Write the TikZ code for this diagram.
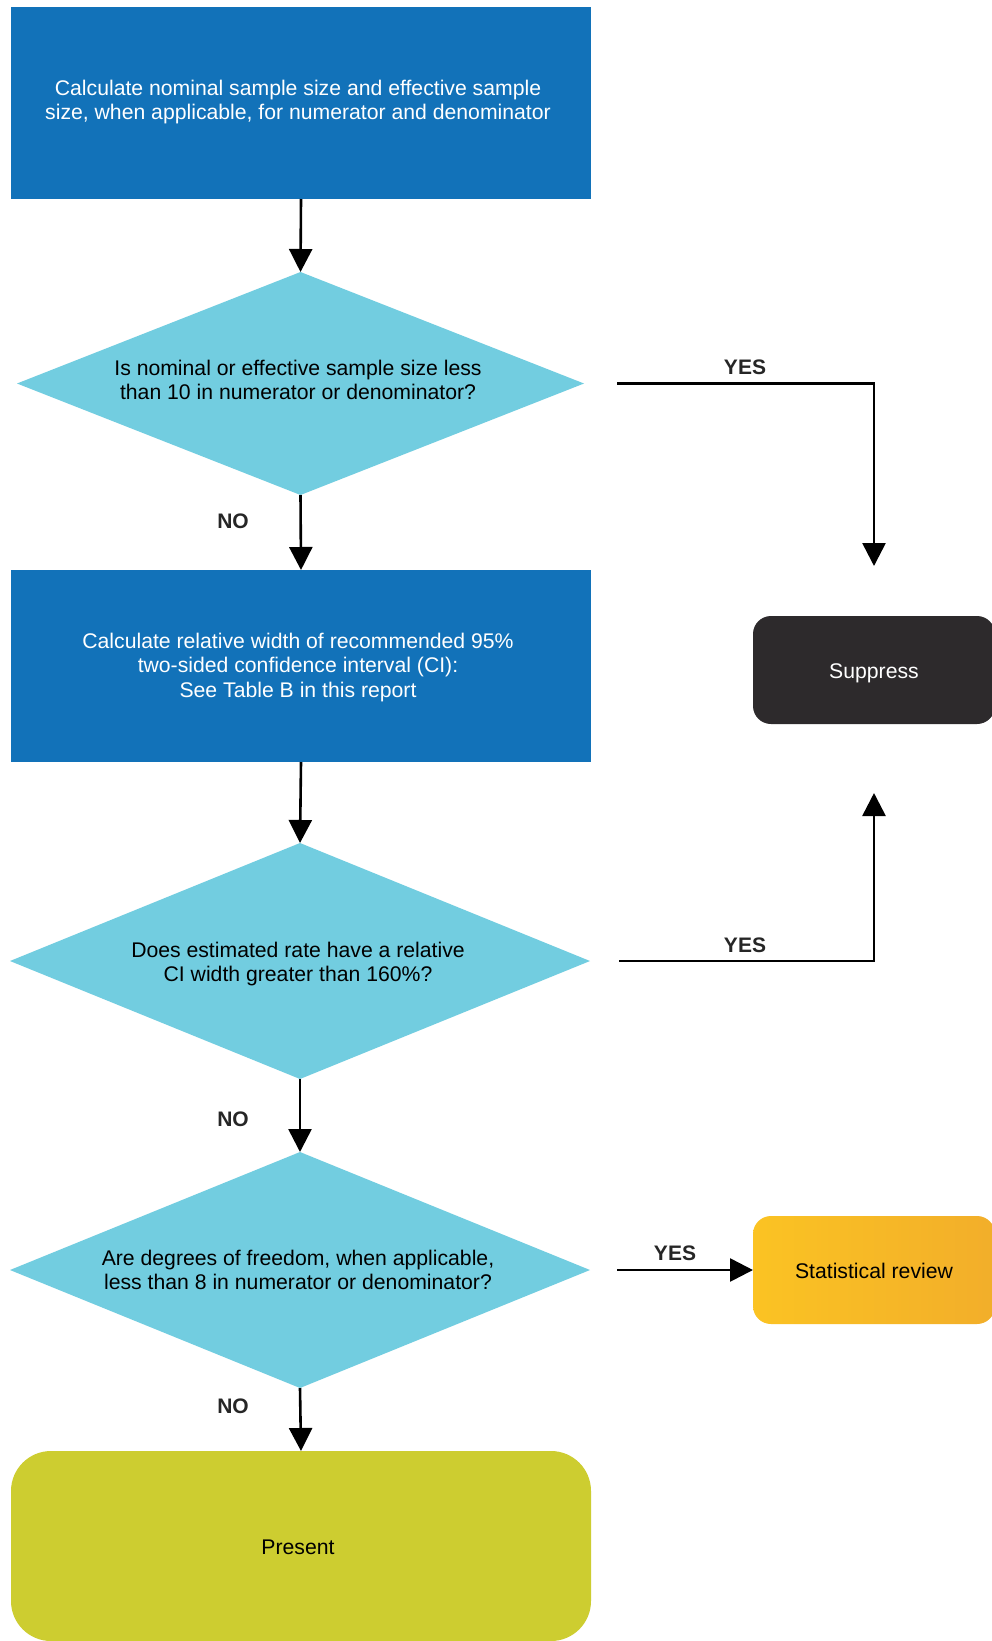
\documentclass[tikz,border=0pt]{standalone}
\usepackage{fontspec}
\setmainfont{Liberation Sans}
\usetikzlibrary{shapes.geometric,arrows.meta}
\definecolor{boxblue}{HTML}{1272B9}
\definecolor{diacyan}{HTML}{72CDE0}
\definecolor{supdark}{HTML}{2D2A2C}
\definecolor{statA}{HTML}{FBC323}
\definecolor{statB}{HTML}{F2AE2A}
\definecolor{presgreen}{HTML}{CDCD30}
\tikzset{
  every node/.style={outer sep=0pt, inner sep=0pt, font=\fontsize{21.2}{24.5}\selectfont},
  bluebox/.style={rectangle, fill=boxblue, minimum width=580pt, minimum height=192pt},
  diam/.style={diamond, fill=diacyan, inner sep=0pt},
  txt/.style={align=center},
  wtxt/.style={align=center, text=white},
  lbl/.style={font=\fontsize{21}{24}\selectfont\bfseries, text=black!85},
  conn/.style={line width=2.6pt, -{Triangle[width=23pt,length=23pt]}, line join=miter},
}
\begin{document}
\begin{tikzpicture}[x=1pt,y=-1pt]
\useasboundingbox (0,0) rectangle (992,1641);
\fill[white] (0,0) rectangle (992,1641);

\node[bluebox] (b1) at (301,103) {};
\node[wtxt] (b1t) at (298,102) {Calculate nominal sample size and effective sample\\size, when applicable, for numerator and denominator};

\node[diam, minimum width=567pt, minimum height=223pt] (d1) at (300.5,383.5) {};
\node[txt] (d1t) at (298,380) {Is nominal or effective sample size less\\than 10 in numerator or denominator?};

\node[bluebox] (b2) at (301,666) {};
\node[wtxt] (b2t) at (298,667.5) {Calculate relative width of recommended 95\%\\two-sided confidence interval (CI):\\See Table B in this report};

\node[diam, minimum width=580pt, minimum height=236pt] (d2) at (300,961) {};
\node[txt] (d2t) at (298,964) {Does estimated rate have a relative\\CI width greater than 160\%?};

\node[diam, minimum width=580pt, minimum height=236pt] (d3) at (300,1270) {};
\node[txt] (d3t) at (298,1270) {Are degrees of freedom, when applicable,\\less than 8 in numerator or denominator?};

\node[rectangle, rounded corners=40pt, fill=presgreen, minimum width=580pt, minimum height=190pt] (pr) at (301,1546) {};
\node[txt] (prt) at (298,1547) {Present};

\node[rectangle, rounded corners=18pt, fill=supdark, minimum width=242pt, minimum height=108pt] (su) at (874,670) {};
\node[wtxt] (sut) at (874,673) {Suppress};

\node[rectangle, rounded corners=18pt, left color=statA, right color=statB, minimum width=242pt, minimum height=108pt] (sr) at (874,1270) {};
\node[txt] (srt) at (874,1271) {Statistical review};

% connectors
\draw[conn] (b1.south) -- (d1.north);
\draw[conn] (d1.south) -- (b2.north);
\draw[conn] (b2.south) -- (d2.north);
\draw[conn] (d2.south) -- (d3.north);
\draw[conn] (d3.south) -- (pr.north);

\coordinate (y1s) at ([xshift=33pt]d1.east);
\coordinate (y1e) at ([yshift=50pt]su.north);
\draw[conn] (y1s) -| (y1e);

\coordinate (y2s) at ([xshift=29pt]d2.east);
\coordinate (y2e) at ([yshift=-69pt]su.south);
\draw[conn] (y2s) -| (y2e);

\coordinate (y3s) at ([xshift=27pt]d3.east);
\draw[conn] (y3s) -- (sr.west);

% labels
\node[lbl] (yes1) at (745,367) {YES};
\node[lbl] (yes2) at (745,945) {YES};
\node[lbl] (yes3) at (675,1253) {YES};
\node[lbl] (no1) at (233,521) {NO};
\node[lbl] (no2) at (233,1119) {NO};
\node[lbl] (no3) at (233,1406) {NO};
\end{tikzpicture}
\end{document}
